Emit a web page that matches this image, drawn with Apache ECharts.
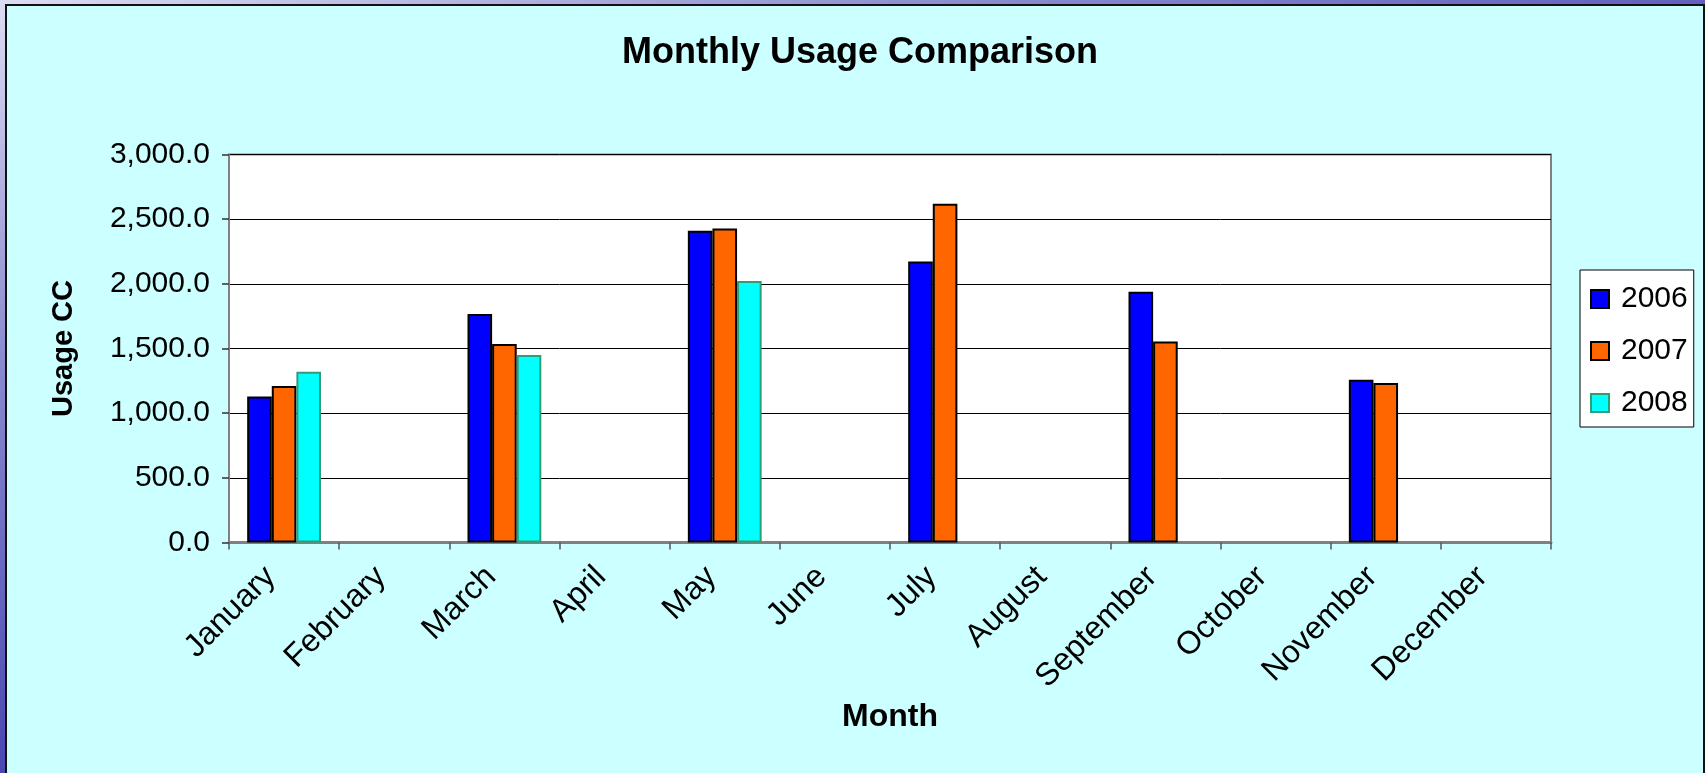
<!DOCTYPE html>
<html>
<head>
<meta charset="utf-8">
<script src="https://cdn.jsdelivr.net/npm/echarts@6/dist/echarts.min.js"></script>
<style>
  html, body { margin: 0; padding: 0; width: 1705px; height: 773px; overflow: hidden; }
  body { background: linear-gradient(160deg, #dcdcf4 0%, #8c8cd0 25%, #4a48b2 55%, #30309a 100%); position: relative; }
  #frame { position: absolute; left: 5px; top: 4px; width: 1696px; height: 800px; border: 2px solid #111; background: #CCFFFF; }
  #chart { position: absolute; left: 0; top: 0; width: 1705px; height: 773px; }
</style>
</head>
<body>
<div id="frame"></div>
<div id="chart"></div>
<script>
const months = ['January','February','March','April','May','June','July','August','September','October','November','December'];
const seriesNames = ['2006', '2007', '2008'];
const usage2006 = [1128, null, 1767, null, 2410, null, 2173, null, 1938, null, 1259, null];
const usage2007 = [1210, null, 1535, null, 2427, null, 2620, null, 1554, null, 1234, null];
const usage2008 = [1320, null, 1450, null, 2022, null, null, null, null, null, null, null];
const yTicks = { min: 0, max: 3000, interval: 500 };

const colors = ['#0000FF', '#FF6600', '#00FFFF'];
const borders = ['#000000', '#000000', '#2E9E78'];
const dataSets = [usage2006, usage2007, usage2008];
const FONT = '"Liberation Sans", Arial, sans-serif';

function fmt(v) {
  const s = Math.round(v).toString().replace(/\B(?=(\d{3})+(?!\d))/g, ',');
  return s + '.0';
}

const chart = echarts.init(document.getElementById('chart'), null, { renderer: 'canvas' });
chart.setOption({
  backgroundColor: 'transparent',
  animation: false,
  textStyle: { fontFamily: FONT },
  title: {
    text: 'Monthly Usage Comparison',
    left: 855, top: 30, textAlign: 'center',
    textStyle: { fontFamily: FONT, fontSize: 36, fontWeight: 'bold', color: '#000' }
  },
  legend: {
    orient: 'vertical',
    left: 1580, top: 270,
    padding: [14, 6, 9, 10],
    itemGap: 22,
    itemWidth: 18, itemHeight: 18,
    icon: 'rect',
    backgroundColor: '#fff',
    borderColor: '#000', borderWidth: 1,
    borderRadius: 0,
    textStyle: { fontFamily: FONT, fontSize: 30, color: '#000', lineHeight: 28, padding: [0, 0, 0, 7] },
    data: seriesNames
  },
  grid: {
    left: 229, top: 154.5, width: 1322, height: 388,
    show: true, backgroundColor: '#fff', borderColor: '#808080', borderWidth: 2
  },
  xAxis: {
    type: 'category',
    data: months,
    boundaryGap: true,
    name: 'Month',
    nameLocation: 'middle',
    nameGap: 155,
    nameTextStyle: { fontFamily: FONT, fontSize: 32, fontWeight: 'bold', color: '#000' },
    axisLine: { show: true, lineStyle: { color: '#808080', width: 3 } },
    axisTick: { show: true, alignWithLabel: false, length: 7, lineStyle: { color: '#555', width: 1.5 } },
    axisLabel: { rotate: 45, margin: 16, padding: [0, 19, 0, 0], fontFamily: FONT, fontSize: 32, color: '#000', interval: 0 },
    splitLine: { show: false }
  },
  yAxis: {
    type: 'value',
    min: yTicks.min, max: yTicks.max, interval: yTicks.interval,
    name: 'Usage CC',
    nameLocation: 'middle',
    nameGap: 151,
    nameTextStyle: { fontFamily: FONT, fontSize: 29, fontWeight: 'bold', color: '#000' },
    axisLine: { show: true, lineStyle: { color: '#808080', width: 2 } },
    axisTick: { show: true, length: 7, lineStyle: { color: '#333', width: 1.5 } },
    axisLabel: { margin: 19, fontFamily: FONT, fontSize: 30, color: '#000', formatter: fmt },
    splitLine: { show: true, lineStyle: { color: '#000', width: 1 } }
  },
  series: seriesNames.map((n, i) => ({
    name: n,
    type: 'bar',
    data: dataSets[i],
    barGap: 0,
    barCategoryGap: '33%',
    itemStyle: { color: colors[i], borderColor: borders[i], borderWidth: 2 }
  }))
});
</script>
</body>
</html>
